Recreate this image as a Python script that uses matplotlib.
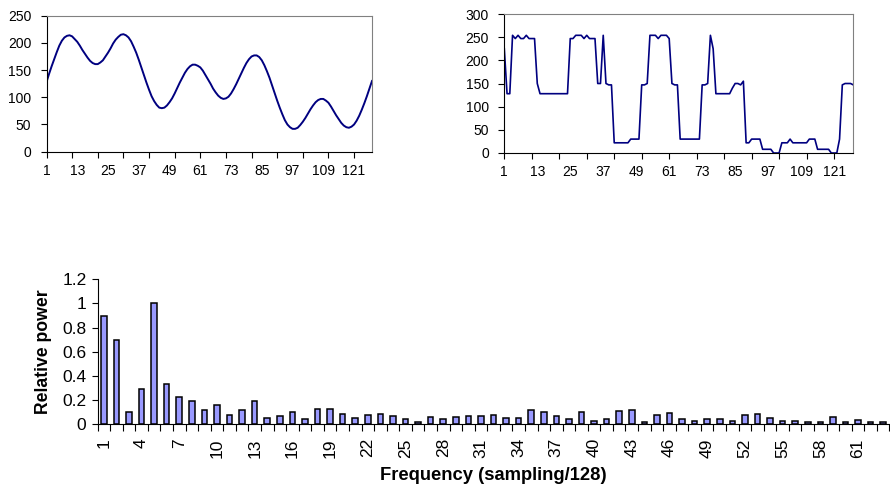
import matplotlib
matplotlib.use("Agg")
import matplotlib.pyplot as plt
from matplotlib.ticker import FixedLocator, NullFormatter

plt.rcParams['font.family'] = ['Liberation Sans', 'DejaVu Sans']

# ---- data ----
# smoothed (low-frequency) intensity profile, samples 1..128
smooth = [128, 143, 157, 170, 183, 195, 204, 210, 213, 214,
          212, 207, 202, 195, 187, 180, 173, 167, 163, 161,
          161, 164, 168, 175, 182, 190, 199, 206, 211, 215,
          216, 214, 210, 203, 193, 182, 169, 155, 141, 127,
          114, 102, 93, 86, 81, 80, 81, 85, 91, 98,
          107, 117, 127, 136, 145, 152, 157, 160, 160, 158,
          155, 149, 141, 133, 125, 116, 109, 103, 99, 97,
          98, 101, 107, 115, 124, 134, 144, 154, 163, 170,
          175, 177, 177, 174, 168, 159, 148, 136, 122, 108,
          94, 81, 69, 58, 50, 45, 42, 42, 44, 49,
          55, 62, 70, 78, 85, 91, 95, 97, 97, 94,
          90, 83, 75, 67, 60, 53, 48, 45, 44, 46,
          50, 57, 66, 77, 89, 102, 116, 130]

# raw intensity profile, samples 1..128
raw = [225, 128, 128, 254, 247, 254, 247, 247, 254, 247,
       247, 247, 150, 128, 128, 128, 128, 128, 128, 128,
       128, 128, 128, 128, 247, 247, 254, 254, 254, 247,
       254, 247, 247, 247, 150, 150, 254, 150, 147, 147,
       22, 22, 22, 22, 22, 22, 30, 30, 30, 30,
       147, 147, 150, 254, 254, 254, 247, 254, 254, 254,
       247, 150, 147, 147, 30, 30, 30, 30, 30, 30,
       30, 30, 147, 147, 150, 254, 225, 128, 128, 128,
       128, 128, 128, 140, 150, 150, 147, 155, 22, 22,
       30, 30, 30, 30, 8, 8, 8, 8, 0, 0,
       0, 22, 22, 22, 30, 22, 22, 22, 22, 22,
       22, 30, 30, 30, 8, 8, 8, 8, 8, 0,
       0, 0, 30, 147, 150, 150, 150, 147]

samples = list(range(1, 129))
sample_labels = list(range(1, 122, 12))
sample_marks = list(range(1, 122, 10))

# relative power spectrum, frequencies 1..63
freqs = list(range(1, 64))
power = [0.90, 0.70, 0.10, 0.29, 1.00, 0.33, 0.225, 0.19, 0.115, 0.16,
         0.075, 0.12, 0.195, 0.05, 0.07, 0.10, 0.04, 0.13, 0.13, 0.085,
         0.05, 0.077, 0.085, 0.07, 0.045, 0.015, 0.06, 0.045, 0.06, 0.07,
         0.065, 0.08, 0.05, 0.05, 0.12, 0.10, 0.07, 0.045, 0.10, 0.03,
         0.045, 0.11, 0.12, 0.02, 0.075, 0.095, 0.045, 0.03, 0.045, 0.04,
         0.025, 0.075, 0.085, 0.055, 0.025, 0.025, 0.015, 0.015, 0.06, 0.02,
         0.035, 0.015, 0.02]
freq_labels = list(range(1, 64, 3))
power_ticks = [0, 0.2, 0.4, 0.6, 0.8, 1.0, 1.2]
power_ticklabels = ['0', '0.2', '0.4', '0.6', '0.8', '1', '1.2']

W, H = 890, 493
fig = plt.figure(figsize=(W / 100, H / 100), dpi=100)

LINE = '#000080'
GRAY = '#808080'


def px_axes(left, top, right, bottom):
    return fig.add_axes([left / W, 1 - bottom / H, (right - left) / W, (bottom - top) / H])


def style_top(ax, ymax, ystep):
    ax.set_xlim(1, 128)
    ax.set_ylim(0, ymax)
    ax.set_yticks(list(range(0, ymax + 1, ystep)))
    ax.xaxis.remove_overlapping_locs = False
    ax.xaxis.set_major_locator(FixedLocator(sample_labels))
    ax.set_xticklabels([str(v) for v in sample_labels])
    ax.xaxis.set_minor_locator(FixedLocator(sample_marks))
    ax.xaxis.set_minor_formatter(NullFormatter())
    ax.tick_params(axis='x', which='major', length=0, pad=9, labelsize=10)
    ax.tick_params(axis='x', which='minor', length=4, width=0.8, direction='out')
    ax.tick_params(axis='y', length=4, width=0.8, direction='out', pad=7, labelsize=10)
    for s in ('top', 'right'):
        ax.spines[s].set_color(GRAY)
        ax.spines[s].set_linewidth(0.8)
    for s in ('left', 'bottom'):
        ax.spines[s].set_color('black')
        ax.spines[s].set_linewidth(0.8)


ax1 = px_axes(46.5, 15.7, 372, 151.7)
ax1.plot(samples, smooth, color=LINE, lw=1.4)
style_top(ax1, 250, 50)

ax2 = px_axes(504.3, 14, 853.3, 153)
ax2.plot(samples, raw, color=LINE, lw=1.2)
style_top(ax2, 300, 50)

ax3 = px_axes(97.5, 279.3, 889.5, 424.3)
ax3.bar(freqs, power, width=0.44, color='#9999FF', edgecolor='black', linewidth=1.1)
ax3.set_xlim(0.5, 63.5)
ax3.set_ylim(0, 1.2)
ax3.set_yticks(power_ticks)
ax3.set_yticklabels(power_ticklabels)
ax3.set_xticks(freq_labels)
ax3.set_xticklabels([str(v) for v in freq_labels], rotation=90)
ax3.xaxis.set_minor_locator(FixedLocator([f + 0.5 for f in range(0, 64)]))
ax3.xaxis.set_minor_formatter(NullFormatter())
ax3.tick_params(axis='x', which='major', length=0, pad=10, labelsize=12.5)
ax3.tick_params(axis='x', which='minor', length=5, width=0.8, direction='out')
ax3.tick_params(axis='y', length=4, width=0.8, direction='out', pad=4, labelsize=12.5)
for s in ('top', 'right'):
    ax3.spines[s].set_visible(False)
for s in ('left', 'bottom'):
    ax3.spines[s].set_linewidth(0.8)
ax3.set_ylabel('Relative power', fontsize=12.7, fontweight='bold', labelpad=7)
ax3.set_xlabel('Frequency (sampling/128)', fontsize=13.2, fontweight='bold', labelpad=7)

fig.savefig('out.png', dpi=100)
